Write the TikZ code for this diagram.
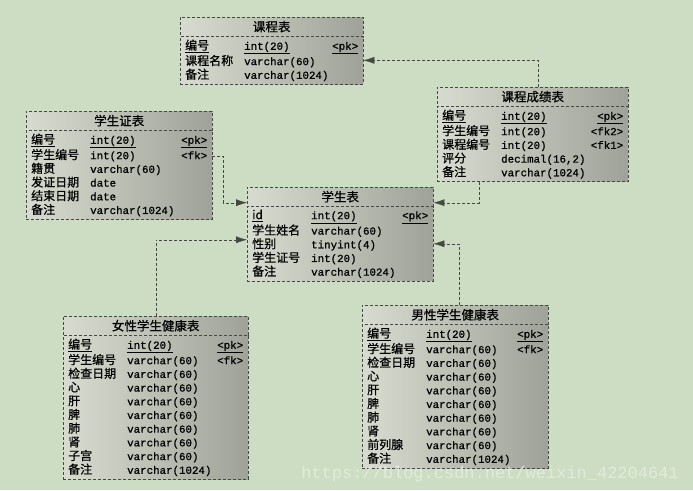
\documentclass[tikz,border=0pt]{standalone}
\usepackage{fontspec}
\setmonofont{Liberation Mono}[Scale=0.9,FakeBold=0.9]
\newfontfamily\cjk{Noto Sans CJK SC}[FakeBold=0.6]
\newfontfamily\wmfont{Liberation Mono}
\usetikzlibrary{positioning,arrows.meta}
\definecolor{bg}{RGB}{205,221,196}
\definecolor{boxL}{RGB}{216,220,208}
\definecolor{boxR}{RGB}{158,162,152}
\definecolor{edge}{RGB}{70,72,68}
\definecolor{wmark}{RGB}{226,235,219}
% field line: name, type, key
\newcommand{\fld}[3]{\makebox[59pt][l]{#1}\texttt{#2}\hfill\texttt{#3}}
\newcommand{\pkfld}[3]{\makebox[59pt][l]{\underline{#1}}\texttt{\underline{#2}}\hfill\texttt{\underline{#3}}}
\tikzset{
  tblhead/.style={draw=edge,densely dashed,left color=boxL,right color=boxR,
    minimum height=19pt,inner sep=0pt,anchor=north west,font=\cjk\fontsize{12.5}{14}\selectfont},
  tblbody/.style={draw=edge,densely dashed,left color=boxL,right color=boxR,
    inner xsep=5pt,inner ysep=3pt,align=left,font=\cjk\fontsize{12}{13.7}\selectfont},
  link/.style={densely dashed,edge,-{Latex[length=11pt,width=7pt]}}
}
\begin{document}
\begin{tikzpicture}[x=1pt,y=-1pt]
\fill[bg,use as bounding box](0,0)rectangle(693,490);
% tables
\node[tblhead,minimum width=183pt](kcb)at(180,17){课程表};
\node[tblbody,text width=173pt,below=0pt of kcb](kcb-b){\pkfld{编号}{int(20)}{<pk>}\\
\fld{课程名称}{varchar(60)}{}\\
\fld{备注}{varchar(1024)}{}};
\node[tblhead,minimum width=186pt](xszb)at(26,111){学生证表};
\node[tblbody,text width=176pt,below=0pt of xszb](xszb-b){\pkfld{编号}{int(20)}{<pk>}\\
\fld{学生编号}{int(20)}{<fk>}\\
\fld{籍贯}{varchar(60)}{}\\
\fld{发证日期}{date}{}\\
\fld{结束日期}{date}{}\\
\fld{备注}{varchar(1024)}{}};
\node[tblhead,minimum width=186pt](xsb)at(247,187){学生表};
\node[tblbody,text width=176pt,below=0pt of xsb](xsb-b){\pkfld{id}{int(20)}{<pk>}\\
\fld{学生姓名}{varchar(60)}{}\\
\fld{性别}{tinyint(4)}{}\\
\fld{学生证号}{int(20)}{}\\
\fld{备注}{varchar(1024)}{}};
\node[tblhead,minimum width=191pt](cjb)at(437,87){课程成绩表};
\node[tblbody,text width=181pt,below=0pt of cjb](cjb-b){\pkfld{编号}{int(20)}{<pk>}\\
\fld{学生编号}{int(20)}{<fk2>}\\
\fld{课程编号}{int(20)}{<fk1>}\\
\fld{评分}{decimal(16,2)}{}\\
\fld{备注}{varchar(1024)}{}};
\node[tblhead,minimum width=185pt](nv)at(63,316){女性学生健康表};
\node[tblbody,text width=175pt,below=0pt of nv](nv-b){\pkfld{编号}{int(20)}{<pk>}\\
\fld{学生编号}{varchar(60)}{<fk>}\\
\fld{检查日期}{varchar(60)}{}\\
\fld{心}{varchar(60)}{}\\
\fld{肝}{varchar(60)}{}\\
\fld{脾}{varchar(60)}{}\\
\fld{肺}{varchar(60)}{}\\
\fld{肾}{varchar(60)}{}\\
\fld{子宫}{varchar(60)}{}\\
\fld{备注}{varchar(1024)}{}};
\node[tblhead,minimum width=186pt](nan)at(362,305){男性学生健康表};
\node[tblbody,text width=176pt,below=0pt of nan](nan-b){\pkfld{编号}{int(20)}{<pk>}\\
\fld{学生编号}{varchar(60)}{<fk>}\\
\fld{检查日期}{varchar(60)}{}\\
\fld{心}{varchar(60)}{}\\
\fld{肝}{varchar(60)}{}\\
\fld{脾}{varchar(60)}{}\\
\fld{肺}{varchar(60)}{}\\
\fld{肾}{varchar(60)}{}\\
\fld{前列腺}{varchar(60)}{}\\
\fld{备注}{varchar(1024)}{}};
% references
\draw[link]([xshift=5.5pt]cjb.north)|-(kcb-b.east);
\draw[link](xszb-b.east|-0,156)--++(11,0)|-([yshift=-6pt]xsb.west);
\draw[link](479,0|-cjb-b.south)|-([yshift=-6pt]xsb.east);
\draw[link](nv.north)|-([yshift=4pt]xsb-b.west);
\draw[link]([xshift=4pt]nan.north)|-(xsb-b.east);
\node[text=wmark,font=\wmfont\fontsize{17}{17}\selectfont](wm)at(490,474){https://blog.csdn.net/weixin\_42204641};
\end{tikzpicture}
\end{document}
